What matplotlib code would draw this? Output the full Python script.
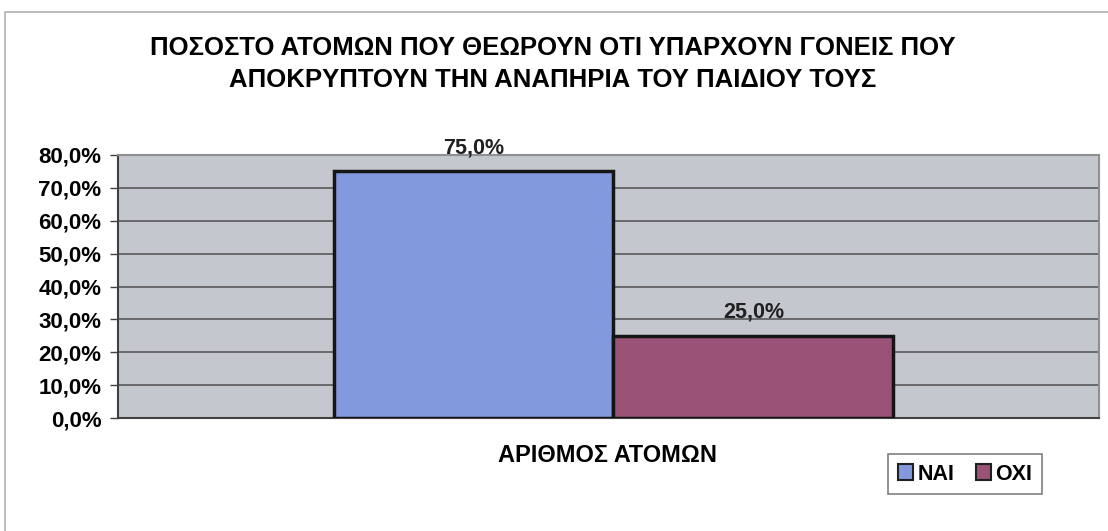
import matplotlib
matplotlib.use('Agg')
import numpy as np
from matplotlib import pyplot as plt
from matplotlib.patches import Rectangle

matplotlib.rcParams['font.family'] = ['Liberation Sans Narrow', 'Liberation Sans', 'DejaVu Sans']
matplotlib.rcParams['font.weight'] = 'bold'

# data
title = 'ΠΟΣΟΣΤΟ ΑΤΟΜΩΝ ΠΟΥ ΘΕΩΡΟΥΝ ΟΤΙ ΥΠΑΡΧΟΥΝ ΓΟΝΕΙΣ ΠΟΥ\nΑΠΟΚΡΥΠΤΟΥΝ ΤΗΝ ΑΝΑΠΗΡΙΑ ΤΟΥ ΠΑΙΔΙΟΥ ΤΟΥΣ'
category = 'ΑΡΙΘΜΟΣ ΑΤΟΜΩΝ'
series = ['ΝΑΙ', 'ΟΧΙ']
values = [75.0, 25.0]
colors = ['#8399DE', '#9A5276']
y_ticks = [0, 10, 20, 30, 40, 50, 60, 70, 80]

W, H = 1108, 531
fig = plt.figure(figsize=(W / 100, H / 100), dpi=100)
fig.patch.set_facecolor('white')

# outer chart border (left and top visible)
fig.add_artist(Rectangle((5 / W, -0.1), 1.2, (H - 12) / H + 0.1, transform=fig.transFigure,
                         fill=False, edgecolor='#b0b0b0', lw=1.2))

ax = fig.add_axes([118 / W, 1 - 418 / H, (1099 - 118) / W, (418 - 155) / H])
ax.set_facecolor('#C5C7CF')

x = np.array([-0.5, 0.5])
ax.bar(x, values, width=1.0, color=colors, edgecolor='#151515', linewidth=2.5, zorder=3)
for xi, v in zip(x, values):
    ax.text(xi, v + 4.0, f'{v:.1f}%'.replace('.', ','), ha='center', va='bottom',
            fontsize=15.5, fontweight='bold', color='#202020', zorder=4)

ax.set_xlim(-1.77, 1.735)
ax.set_ylim(0, 80)
ax.set_yticks(y_ticks)
ax.set_yticklabels([f'{t:.1f}%'.replace('.', ',') for t in y_ticks], fontsize=16, fontweight='bold')
ax.tick_params(axis='y', length=6, width=1, color='#404040', pad=6)
ax.set_xticks([])
ax.yaxis.grid(True, color='#505050', lw=1.1)
ax.set_axisbelow(True)
for side in ['left', 'bottom']:
    ax.spines[side].set_color('#404040')
    ax.spines[side].set_linewidth(1.5)
for side in ['top', 'right']:
    ax.spines[side].set_color('#909090')
    ax.spines[side].set_linewidth(1.5)

fig.text(553 / W, 1 - 64 / H, title, ha='center', va='center', fontsize=18.5,
         fontweight='bold', linespacing=1.45)
fig.text(607 / W, 1 - 455 / H, category, ha='center', va='center', fontsize=17, fontweight='bold')

handles = [Rectangle((0, 0), 1, 1, facecolor=c, edgecolor='#202020', lw=1.5) for c in colors]
leg = fig.legend(handles, series, loc='center', bbox_to_anchor=(965 / W, 1 - 474 / H),
                 ncol=2, fontsize=15.5, frameon=True, fancybox=False, handlelength=0.7,
                 handleheight=0.7, handletextpad=0.2, columnspacing=1.0, borderpad=0.45)
leg.get_frame().set_edgecolor('#606060')
leg.get_frame().set_linewidth(1.2)
for t in leg.get_texts():
    t.set_fontweight('bold')

fig.savefig('out.png', dpi=100)
